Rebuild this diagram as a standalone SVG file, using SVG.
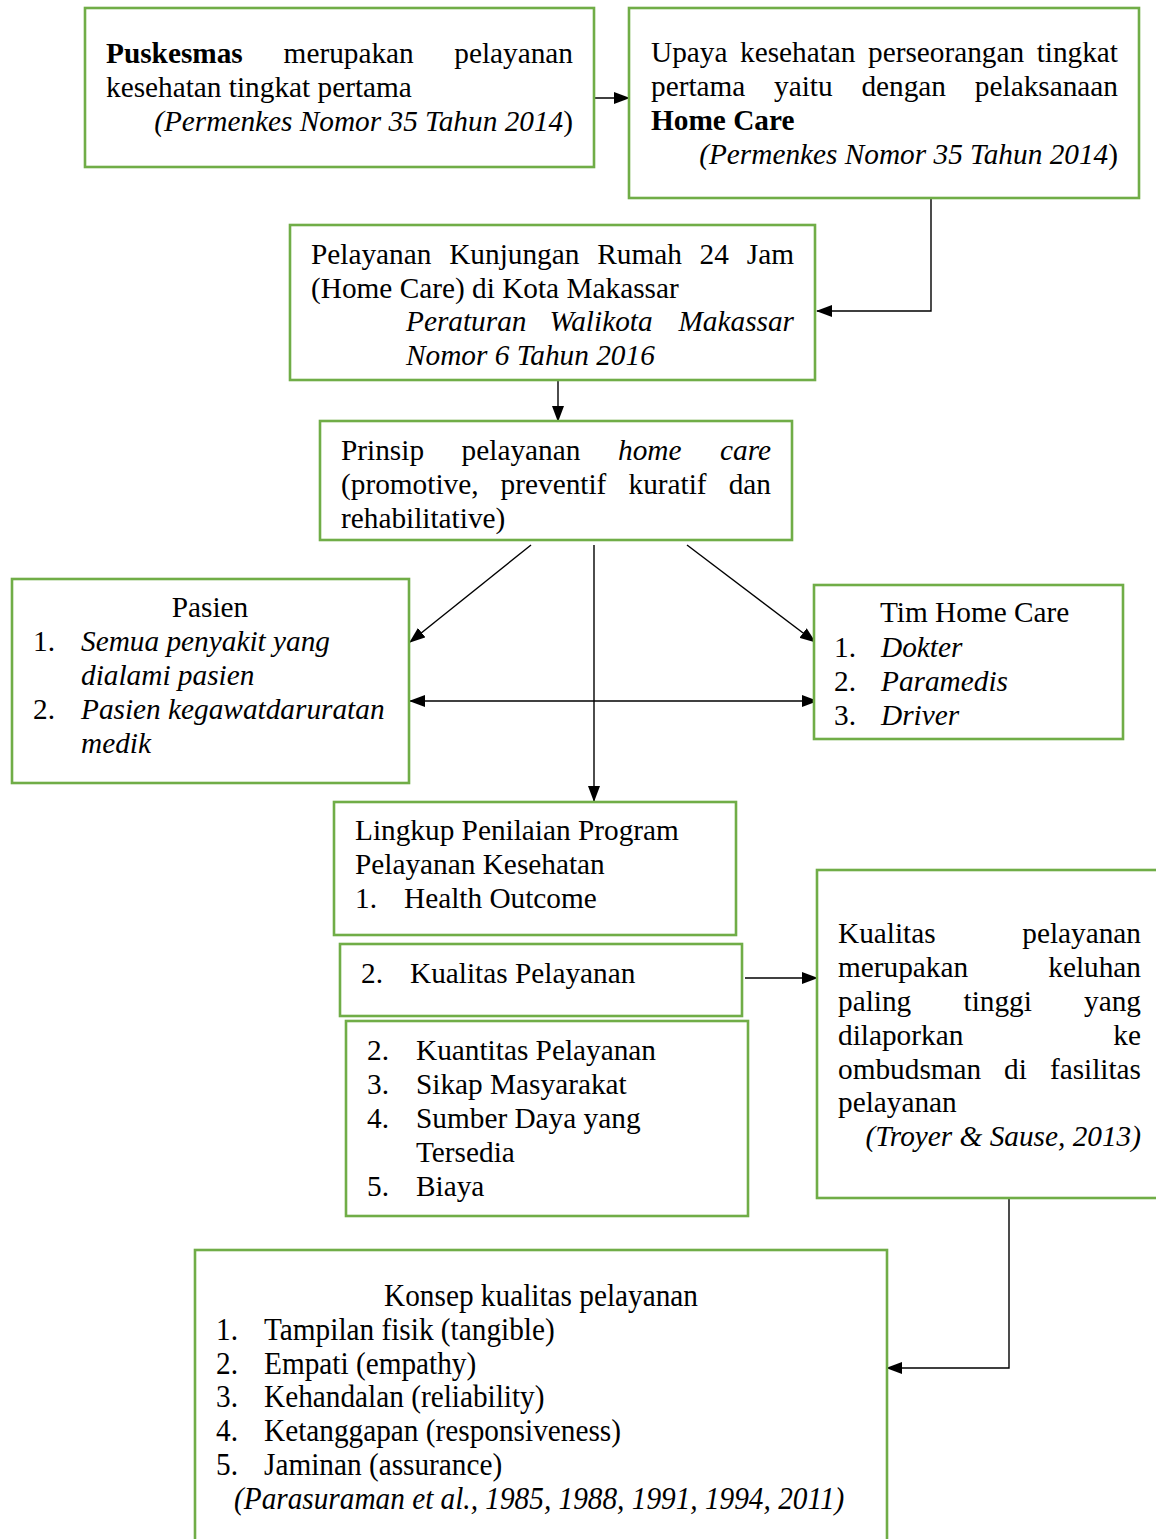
<svg xmlns="http://www.w3.org/2000/svg" width="1156" height="1539" viewBox="0 0 1156 1539">
<style>
text{font-family:"Liberation Serif","Times New Roman",serif;font-size:29.3px;fill:#000}
.i{font-style:italic}
.b{font-weight:bold}
.e{text-anchor:end}
.m{text-anchor:middle}
.box{fill:#fff;stroke:#70AD47;stroke-width:2.6}
.c{fill:none;stroke:#000;stroke-width:1.4}
</style>
<defs>
<marker id="ah" markerUnits="userSpaceOnUse" markerWidth="16" markerHeight="12" refX="15" refY="6" orient="auto-start-reverse" viewBox="0 0 16 12">
<path d="M0,0 L16,6 L0,12 z" fill="#000"/>
</marker>
</defs>
<rect width="1156" height="1539" fill="#fff"/>

<g id="connectors">
<line class="c" x1="594" y1="98" x2="629" y2="98" marker-end="url(#ah)"/>
<polyline class="c" points="931,198 931,311 817,311" marker-end="url(#ah)"/>
<line class="c" x1="558" y1="380" x2="558" y2="421" marker-end="url(#ah)"/>
<line class="c" x1="531" y1="545" x2="410" y2="642" marker-end="url(#ah)"/>
<line class="c" x1="594" y1="545" x2="594" y2="801" marker-end="url(#ah)"/>
<line class="c" x1="687" y1="545" x2="815" y2="642" marker-end="url(#ah)"/>
<line class="c" x1="410" y1="701" x2="817" y2="701" marker-start="url(#ah)" marker-end="url(#ah)"/>
<line class="c" x1="745" y1="978" x2="817" y2="978" marker-end="url(#ah)"/>
<polyline class="c" points="1009,1198 1009,1368 887,1368" marker-end="url(#ah)" stroke="#333"/>
</g>

<g id="node-puskesmas">
<rect class="box" x="85" y="8" width="509" height="159"/>
<text x="106" y="63" class="b">Puskesmas</text>
<text x="283.6" y="63">merupakan</text>
<text x="573" y="63" class="e">pelayanan</text>
<text x="106" y="97">kesehatan tingkat pertama</text>
<text x="573" y="131" class="e"><tspan class="i">(Permenkes Nomor 35 Tahun 2014</tspan>)</text>
</g>

<g id="node-upaya">
<rect class="box" x="629" y="8" width="510" height="190"/>
<text x="651" y="62">Upaya</text>
<text x="740" y="62">kesehatan</text>
<text x="868" y="62">perseorangan</text>
<text x="1118" y="62" class="e">tingkat</text>
<text x="651" y="96">pertama</text>
<text x="774" y="96">yaitu</text>
<text x="861.4" y="96">dengan</text>
<text x="1118" y="96" class="e">pelaksanaan</text>
<text x="651" y="130" class="b">Home Care</text>
<text x="1118" y="164" class="e"><tspan class="i">(Permenkes Nomor 35 Tahun 2014</tspan>)</text>
</g>

<g id="node-kunjungan">
<rect class="box" x="290" y="225" width="525" height="155"/>
<text x="311" y="264">Pelayanan</text>
<text x="449.2" y="264">Kunjungan</text>
<text x="597.2" y="264">Rumah</text>
<text x="699.6" y="264">24</text>
<text x="794" y="264" class="e">Jam</text>
<text x="311" y="298">(Home Care) di Kota Makassar</text>
<text x="406" y="331" class="i">Peraturan</text>
<text x="549.5" y="331" class="i">Walikota</text>
<text x="794" y="331" class="i e">Makassar</text>
<text x="406" y="365" class="i">Nomor 6 Tahun 2016</text>
</g>

<g id="node-prinsip">
<rect class="box" x="320" y="421" width="472" height="119"/>
<text x="341" y="460">Prinsip</text>
<text x="461.6" y="460">pelayanan</text>
<text x="618" y="460" class="i">home</text>
<text x="771" y="460" class="i e">care</text>
<text x="341" y="494">(promotive,</text>
<text x="500.6" y="494">preventif</text>
<text x="628.5" y="494">kuratif</text>
<text x="771" y="494" class="e">dan</text>
<text x="341" y="528">rehabilitative)</text>
</g>

<g id="node-pasien">
<rect class="box" x="12" y="579" width="397" height="204"/>
<text x="210" y="617" class="m">Pasien</text>
<text x="33" y="651">1.</text>
<text x="81" y="651" class="i">Semua penyakit yang</text>
<text x="81" y="685" class="i">dialami pasien</text>
<text x="33" y="719">2.</text>
<text x="81" y="719" class="i">Pasien kegawatdaruratan</text>
<text x="81" y="753" class="i">medik</text>
</g>

<g id="node-tim">
<rect class="box" x="814" y="585" width="309" height="154"/>
<text x="880" y="622">Tim Home Care</text>
<text x="834" y="657">1.</text>
<text x="881" y="657" class="i">Dokter</text>
<text x="834" y="691">2.</text>
<text x="881" y="691" class="i">Paramedis</text>
<text x="834" y="725">3.</text>
<text x="881" y="725" class="i">Driver</text>
</g>

<g id="node-lingkup">
<rect class="box" x="334" y="802" width="402" height="133"/>
<text x="355" y="840">Lingkup Penilaian Program</text>
<text x="355" y="874">Pelayanan Kesehatan</text>
<text x="355" y="908">1.</text>
<text x="404" y="908">Health Outcome</text>
</g>

<g id="node-kualitas">
<rect class="box" x="340" y="944" width="402" height="72"/>
<text x="361" y="983">2.</text>
<text x="410" y="983">Kualitas Pelayanan</text>
</g>

<g id="node-lainnya">
<rect class="box" x="346" y="1021" width="402" height="195"/>
<text x="367" y="1060">2.</text>
<text x="416" y="1060">Kuantitas Pelayanan</text>
<text x="367" y="1094">3.</text>
<text x="416" y="1094">Sikap Masyarakat</text>
<text x="367" y="1128">4.</text>
<text x="416" y="1128">Sumber Daya yang</text>
<text x="416" y="1162">Tersedia</text>
<text x="367" y="1196">5.</text>
<text x="416" y="1196">Biaya</text>
</g>

<g id="node-keluhan">
<rect class="box" x="817" y="870" width="350" height="328"/>
<text x="838" y="943">Kualitas</text>
<text x="1141" y="943" class="e">pelayanan</text>
<text x="838" y="977">merupakan</text>
<text x="1141" y="977" class="e">keluhan</text>
<text x="838" y="1011">paling</text>
<text x="963.5" y="1011">tinggi</text>
<text x="1141" y="1011" class="e">yang</text>
<text x="838" y="1045">dilaporkan</text>
<text x="1141" y="1045" class="e">ke</text>
<text x="838" y="1079">ombudsman</text>
<text x="1004" y="1079">di</text>
<text x="1141" y="1079" class="e">fasilitas</text>
<text x="838" y="1112">pelayanan</text>
<text x="1141" y="1146" class="i e">(Troyer &amp; Sause, 2013)</text>
</g>

<g id="node-konsep">
<rect class="box" x="195" y="1250" width="692" height="310"/>
<text transform="translate(541,1306) scale(1,1.1)" class="m">Konsep kualitas pelayanan</text>
<text transform="translate(216,1340) scale(1,1.1)">1.</text>
<text transform="translate(264,1340) scale(1,1.1)">Tampilan fisik (tangible)</text>
<text transform="translate(216,1374) scale(1,1.1)">2.</text>
<text transform="translate(264,1374) scale(1,1.1)">Empati (empathy)</text>
<text transform="translate(216,1407) scale(1,1.1)">3.</text>
<text transform="translate(264,1407) scale(1,1.1)">Kehandalan (reliability)</text>
<text transform="translate(216,1441) scale(1,1.1)">4.</text>
<text transform="translate(264,1441) scale(1,1.1)">Ketanggapan (responsiveness)</text>
<text transform="translate(216,1475) scale(1,1.1)">5.</text>
<text transform="translate(264,1475) scale(1,1.1)">Jaminan (assurance)</text>
<text transform="translate(234,1509) scale(1,1.1)" class="i">(Parasuraman et al., 1985, 1988, 1991, 1994, 2011)</text>
</g>
</svg>
